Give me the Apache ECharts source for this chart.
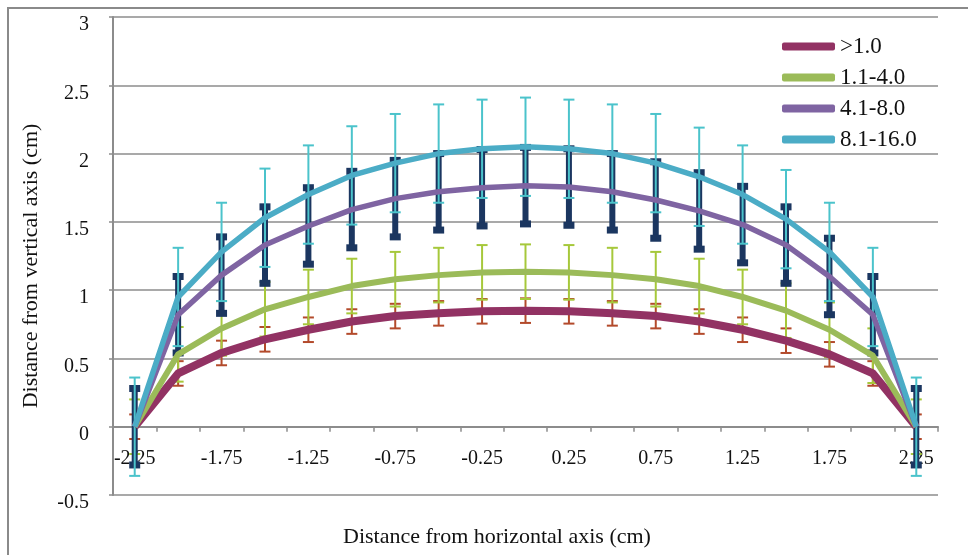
<!DOCTYPE html>
<html>
<head>
<meta charset="utf-8">
<script src="https://cdn.jsdelivr.net/npm/echarts@6/dist/echarts.min.js"></script>
<style>
  html, body { margin: 0; padding: 0; background: #fff; }
  #chart { width: 968px; height: 555px; }
</style>
</head>
<body>
<div id="chart"></div>
<script>
  // horizontal positions (cm), one category each
  const positions = ['-2.25', '-2', '-1.75', '-1.5', '-1.25', '-1', '-0.75', '-0.5', '-0.25', '0',
    '0.25', '0.5', '0.75', '1', '1.25', '1.5', '1.75', '2', '2.25']

  const seriesNames = ['>1.0', '1.1-4.0', '4.1-8.0', '8.1-16.0']

  // distance from vertical axis (cm)
  const over1 = [0, 0.39, 0.54, 0.64, 0.71, 0.77, 0.81, 0.83, 0.845, 0.85, 0.845, 0.83, 0.81, 0.77, 0.71, 0.63, 0.53, 0.39, 0]
  const range1to4 = [0, 0.53, 0.72, 0.86, 0.95, 1.03, 1.08, 1.11, 1.13, 1.135, 1.13, 1.11, 1.08, 1.03, 0.95, 0.85, 0.71, 0.52, 0]
  const range4to8 = [0, 0.82, 1.11, 1.33, 1.47, 1.59, 1.67, 1.72, 1.75, 1.765, 1.755, 1.72, 1.66, 1.58, 1.48, 1.33, 1.1, 0.82, 0]
  const range8to16 = [0, 0.95, 1.28, 1.53, 1.7, 1.84, 1.93, 2.0, 2.035, 2.05, 2.035, 2.0, 1.93, 1.83, 1.7, 1.52, 1.28, 0.95, 0]

  // +/- error bar size per series
  const errSizes = [0.09, 0.2, 0.28, 0.36]

  const seriesValues = [over1, range1to4, range4to8, range8to16]
  const lineColors = ['#923263', '#9BBB59', '#7F64A2', '#4BACC6']
  const lineWidths = [8, 6, 5.5, 5.5]
  const errColors = ['#B34A2B', '#A6C83B', '#1B3660', '#4BC3CB']

  const FONT = '"Liberation Serif", "Times New Roman", serif'
  const GRID = '#8c8c8c'

  // error bar look: [stem width, cap length, cap thickness]
  const errShape = [
    [2, 11, 2],
    [2, 11, 2],
    [6, 11, 7],
    [2, 11, 2],
  ]

  function errorRenderer(k) {
    const err = errSizes[k]
    const [stemW, capLen, capT] = errShape[k]
    const color = errColors[k]
    return function (params, api) {
      const i = api.value(0)
      const v = api.value(1)
      const top = api.coord([i, v + err])
      const bot = api.coord([i, v - err])
      const x = top[0]
      const h = capLen / 2
      return {
        type: 'group',
        children: [
          { type: 'line', shape: { x1: x, y1: top[1], x2: x, y2: bot[1] }, style: { stroke: color, lineWidth: stemW } },
          { type: 'line', shape: { x1: x - h, y1: top[1], x2: x + h, y2: top[1] }, style: { stroke: color, lineWidth: capT } },
          { type: 'line', shape: { x1: x - h, y1: bot[1], x2: x + h, y2: bot[1] }, style: { stroke: color, lineWidth: capT } },
        ],
      }
    }
  }

  const errorSeries = seriesValues.map((vals, k) => ({
    type: 'custom',
    name: 'err' + k,
    renderItem: errorRenderer(k),
    data: vals.map((v, i) => [i, v]),
    encode: { x: 0, y: 1 },
    z: 2,
    silent: true,
  }))

  const lineSeries = seriesValues.map((vals, k) => ({
    type: 'line',
    name: seriesNames[k],
    data: vals,
    showSymbol: false,
    symbol: 'none',
    color: lineColors[k],
    lineStyle: { width: lineWidths[k], color: lineColors[k], join: 'round' },
    z: 3,
  }))

  const chart = echarts.init(document.getElementById('chart'), null, { renderer: 'canvas' })
  chart.setOption({
    animation: false,
    backgroundColor: '#fff',
    grid: { left: 113, right: 30, top: 17, bottom: 60 },
    legend: {
      data: seriesNames,
      orient: 'vertical',
      left: 777,
      top: 30,
      itemGap: 8,
      itemWidth: 53,
      itemHeight: 8,
      icon: 'roundRect',
      textStyle: { fontFamily: FONT, fontSize: 23, lineHeight: 23, color: '#111' },
    },
    xAxis: {
      type: 'category',
      data: positions,
      boundaryGap: true,
      // sits on y = 0 (one grid step above the bottom edge)
      offset: -68.3,
      axisLine: { onZero: false, lineStyle: { color: GRID, width: 2 } },
      axisTick: { show: true, interval: 0, length: 5, lineStyle: { color: GRID, width: 1.5 } },
      axisLabel: { interval: 1, margin: 22, fontFamily: FONT, fontSize: 20, color: '#111' },
      splitLine: { show: false },
    },
    yAxis: {
      type: 'value',
      min: -0.5,
      max: 3,
      interval: 0.5,
      axisLine: { show: true, lineStyle: { color: GRID, width: 2 } },
      axisTick: { show: true, length: 4, lineStyle: { color: GRID, width: 1.5 } },
      axisLabel: { margin: 24, fontFamily: FONT, fontSize: 20, color: '#111', verticalAlign: 'top', lineHeight: 16 },
      splitLine: { show: true, lineStyle: { color: GRID, width: 1.5 } },
    },
    graphic: [
      {
        type: 'rect',
        shape: { x: 8, y: 8, width: 990, height: 600 },
        style: { fill: 'none', stroke: '#8a8a8a', lineWidth: 2 },
        silent: true,
      },
      {
        type: 'text',
        x: 497,
        y: 537,
        style: {
          text: 'Distance from horizontal axis (cm)',
          font: '22px ' + FONT,
          fill: '#111',
          align: 'center',
          verticalAlign: 'middle',
        },
      },
      {
        type: 'text',
        x: 31,
        y: 266,
        rotation: Math.PI / 2,
        style: {
          text: 'Distance from vertical axis (cm)',
          font: '22px ' + FONT,
          fill: '#111',
          align: 'center',
          verticalAlign: 'middle',
        },
      },
    ],
    series: [...errorSeries, ...lineSeries],
  })
</script>
</body>
</html>
